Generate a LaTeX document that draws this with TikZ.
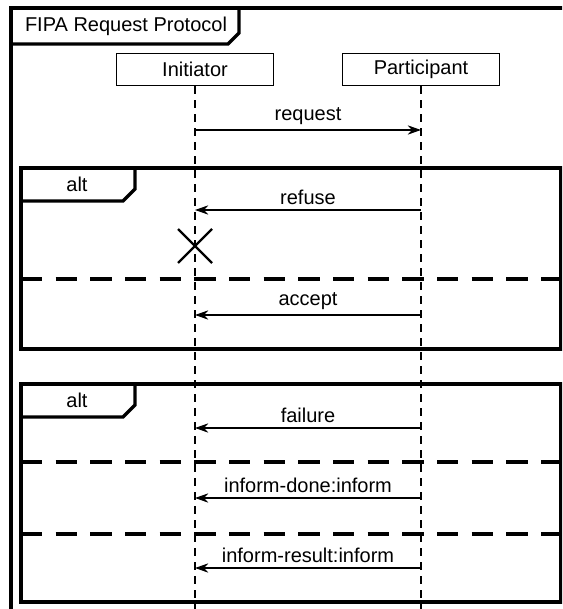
\documentclass[tikz,border=0pt]{standalone}
\usepackage{fontspec}
\setmainfont{Liberation Sans}
\usetikzlibrary{arrows.meta}

\tikzset{
  frame/.style={line width=2.6pt},
  lifeline/.style={line width=1.2pt, dash pattern=on 6pt off 4.5pt},
  separator/.style={line width=2.6pt, dash pattern=on 16pt off 10pt},
  msg/.style={line width=0.9pt, -{Stealth[length=10pt,width=7pt]}},
  head/.style={draw, line width=0.9pt, minimum width=118pt, minimum height=24.5pt, inner sep=0pt},
}

\begin{document}
\begin{tikzpicture}[x=0.75pt, y=-0.75pt, font=\fontsize{15}{18}\selectfont]
\useasboundingbox (0,0) rectangle (562,609);
\clip (0,0) rectangle (562,609);
% outer frame and its title tab
\draw [frame] (600,8) -- (11,8) -- (11,630);
\draw [frame] (11,44) -- (228,44) -- (239,33) -- (239,8);
\node (title) at (126,26) {FIPA Request Protocol};
% heads and lifelines
\node [head, fill=white] (init) at (195,69.5) {Initiator};
\node [head, fill=white] (part) at (421,69.5) {Participant};
\draw [lifeline] (init.south) -- (init.south |- 0,630);
\draw [lifeline] (part.south) -- (part.south |- 0,630);
\draw [msg] (init |- 0,130) -- (part |- 0,130) node [midway, above] {request};

% first alt
\draw [frame] (21,168) rectangle (561,349);
\draw [frame] (21,201) -- (123,201) -- (135,189) -- (135,168);
\node (alt1) at (77,184) {alt};
\draw [msg] (part |- 0,210) -- (init |- 0,210) node [midway, above] {refuse};
\draw [line width=1.6pt] (178,229) -- (212,263);
\draw [line width=1.6pt] (178,263) -- (212,229);
\draw [separator] (21,279) -- (561,279);
\draw [msg] (part |- 0,315) -- (init |- 0,315) node [midway, above] {accept};

% second alt
\draw [frame] (21,384) rectangle (561,602);
\draw [frame] (21,417) -- (123,417) -- (135,405) -- (135,384);
\node (alt2) at (77,400) {alt};
\draw [msg] (part |- 0,428) -- (init |- 0,428) node [midway, above] {failure};
\draw [separator] (21,462) -- (561,462);
\draw [msg] (part |- 0,498) -- (init |- 0,498) node [midway, above] {inform-done:inform};
\draw [separator] (21,534) -- (561,534);
\draw [msg] (part |- 0,568) -- (init |- 0,568) node [midway, above] {inform-result:inform};
\end{tikzpicture}
\end{document}
